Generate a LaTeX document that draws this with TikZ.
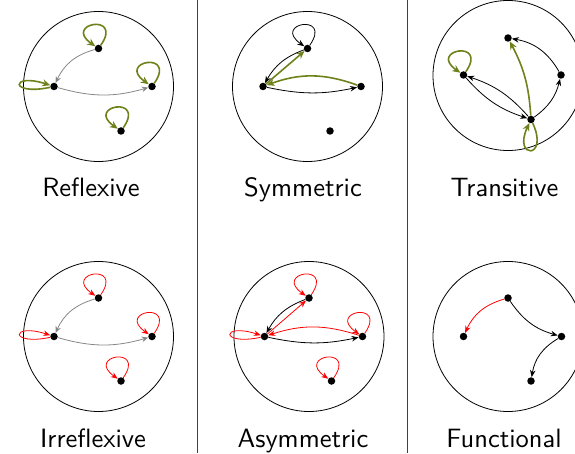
\documentclass[tikz,border=0pt]{standalone}
\usepackage{graphicx}
\usetikzlibrary{arrows.meta}
\definecolor{grn}{RGB}{110,130,28}
\definecolor{rd}{RGB}{255,0,0}
\definecolor{gry}{RGB}{135,135,135}
\newcommand{\lbltext}[1]{\scalebox{2.65}{\fontsize{10}{12}\selectfont\sffamily #1}}
\begin{document}
\begin{tikzpicture}[x=1pt,y=1pt,
  dot/.style={circle,fill=black,inner sep=0pt,minimum size=7.5pt},
  ring/.style={draw=black,line width=0.8pt},
  rule/.style={draw=black!75,line width=0.9pt},
  lab/.style={anchor=base,inner sep=0pt},
  thin/.style={line width=0.8pt,-{Stealth[length=7pt,width=5.5pt]}},
  gedge/.style={gry,line width=0.8pt,-{Stealth[length=6.5pt,width=5.5pt]}},
  kedge/.style={black,thin},
  redge/.style={rd,thin},
  gthick/.style={grn,line width=1.6pt,-{Stealth[length=8pt,width=7pt]}},
  lp/.style={out=55,in=145,looseness=1,min distance=40pt},
  lpleft/.style={out=192,in=162,looseness=1,min distance=42pt},
  lpdown/.style={out=-65,in=-115,looseness=1,min distance=40pt}
]
\useasboundingbox (0,0) rectangle (575,453);
% separators
\draw[rule] (197.5,0) -- (197.5,453);
\draw[rule] (407.5,0) -- (407.5,453);

% ---------- Reflexive ----------
\begin{scope}[shift={(98.5,366.5)}]
  \draw[ring] (0,0) circle[radius=75pt];
  \node[dot] (at) at (0,38) {};
  \node[dot] (al) at (-44.5,0) {};
  \node[dot] (ar) at (53.5,0) {};
  \node[dot] (ab) at (22.5,-44.5) {};
  \draw[gedge] (at) to[bend right=25] (al);
  \draw[gedge] (al) to[bend right=16] (ar);
  \draw[gthick] (at) to[lp] (at);
  \draw[gthick] (ar) to[lp] (ar);
  \draw[gthick] (ab) to[lp] (ab);
  \draw[gthick] (al) to[lpleft] (al);
\end{scope}
\node[lab] (la) at (91,256.3) {\lbltext{Reflexive}};

% ---------- Symmetric ----------
\begin{scope}[shift={(307.5,366.5)}]
  \draw[ring] (0,0) circle[radius=75pt];
  \node[dot] (bt) at (0,38) {};
  \node[dot] (bl) at (-44.5,0) {};
  \node[dot] (br) at (53.5,0) {};
  \node[dot] (bb) at (22.5,-44.5) {};
  \draw[kedge] (bt) to[lp] (bt);
  \draw[kedge] (bt) to[bend right=20] (bl);
  \draw[kedge] (bl) to[bend right=12] (br);
  \draw[gthick] (bl) to (bt);
  \draw[gthick] (br) to[bend right=20] (bl);
\end{scope}
\node[lab] (lb) at (303,256.3) {\lbltext{Symmetric}};

% ---------- Transitive ----------
\begin{scope}[shift={(508,377.5)}]
  \draw[ring] (0,0) circle[radius=75pt];
  \node[dot] (ct) at (0,37.5) {};
  \node[dot] (cl) at (-44.5,0.5) {};
  \node[dot] (cr) at (53,0.5) {};
  \node[dot] (cb) at (23,-44) {};
  \draw[kedge] (cb) to[bend right=15] (cl);
  \draw[kedge] (cl) to[bend right=15] (cb);
  \draw[kedge] (cb) to[bend right=20] (cr);
  \draw[kedge] (cr) to[bend right=25] (ct);
  \draw[gthick] (cb) to[bend right=12] (ct);
  \draw[gthick] (cl) to[lp] (cl);
  \draw[gthick] (cb) to[lpdown] (cb);
\end{scope}
\node[lab] (lc) at (504.5,256.3) {\lbltext{Transitive}};

% ---------- Irreflexive ----------
\begin{scope}[shift={(98.5,116.5)}]
  \draw[ring] (0,0) circle[radius=75pt];
  \node[dot] (dt) at (0,38.5) {};
  \node[dot] (dl) at (-44.5,0) {};
  \node[dot] (dr) at (53.5,0) {};
  \node[dot] (db) at (22.5,-44.5) {};
  \draw[gedge] (dt) to[bend right=25] (dl);
  \draw[gedge] (dl) to[bend right=16] (dr);
  \draw[redge] (dt) to[lp] (dt);
  \draw[redge] (dr) to[lp] (dr);
  \draw[redge] (db) to[lp] (db);
  \draw[redge] (dl) to[lpleft] (dl);
\end{scope}
\node[lab] (ld) at (93,6) {\lbltext{Irreflexive}};

% ---------- Asymmetric ----------
\begin{scope}[shift={(309,116.5)}]
  \draw[ring] (0,0) circle[radius=75pt];
  \node[dot] (et) at (0,38.5) {};
  \node[dot] (el) at (-44.5,0) {};
  \node[dot] (er) at (53.5,0) {};
  \node[dot] (eb) at (22.5,-44.5) {};
  \draw[redge] (et) to[lp] (et);
  \draw[redge] (er) to[lp] (er);
  \draw[redge] (eb) to[lp] (eb);
  \draw[redge] (el) to[lpleft] (el);
  \draw[kedge] (et) to[bend right=20] (el);
  \draw[kedge] (el) to[bend right=12] (er);
  \draw[redge] (el) to (et);
  \draw[redge] (er) to[bend right=18] (el);
\end{scope}
\node[lab] (le) at (303,6) {\lbltext{Asymmetric}};

% ---------- Functional ----------
\begin{scope}[shift={(508,116.5)}]
  \draw[ring] (0,0) circle[radius=75pt];
  \node[dot] (ft) at (0,38.5) {};
  \node[dot] (fl) at (-44.5,0) {};
  \node[dot] (fr) at (53.5,0) {};
  \node[dot] (fb) at (23,-44.5) {};
  \draw[redge] (ft) to[bend right=25] (fl);
  \draw[kedge] (ft) to[bend right=20] (fr);
  \draw[kedge] (fr) to[bend right=25] (fb);
\end{scope}
\node[lab] (lf) at (504,6) {\lbltext{Functional}};
\end{tikzpicture}
\end{document}
